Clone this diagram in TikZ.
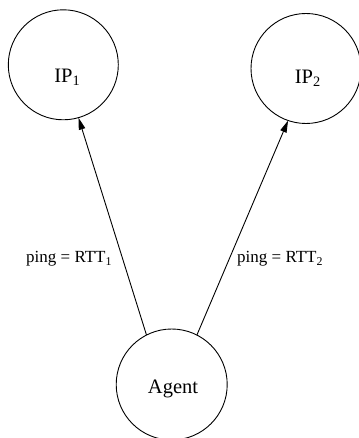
\documentclass[tikz,border=0pt]{standalone}
\usepackage{fontspec}
\setmainfont{Liberation Serif}
\usetikzlibrary{arrows.meta}
\begin{document}
\begin{tikzpicture}[x=1pt,y=-1pt,
  host/.style={draw,circle,line width=0.9pt,minimum size=110pt,inner sep=0pt,outer sep=0pt},
  hosttext/.style={anchor=base,inner sep=0pt,font=\fontsize{20.5}{24}\selectfont},
  edgelabel/.style={anchor=base west,inner sep=0pt,font=\fontsize{17}{20}\selectfont},
  link/.style={line width=0.9pt,-{Triangle[length=12pt,width=6.5pt]}}]
\useasboundingbox (0,0) rectangle (358,438);
\node[host] (ip1) at (63.3,64.8) {};
\node[host] (ip2) at (306,68.5) {};
\node[host,minimum size=111pt] (agent) at (171.7,384.5) {};
\node[hosttext] (ip1t) at (63.5,82.5) {IP\rlap{\textsubscript{1}}};
\node[hosttext] (ip2t) at (304,83.3) {IP\rlap{\textsubscript{2}}};
\node[hosttext] (agentt) at (173,393.3) {Agent};
\draw[link] (agent.117.3) -- (ip1.-74.5);
\draw[link] (agent.63.4) -- (ip2.251.8);
\node[edgelabel] (l1) at (26,262.5) {ping = RTT\textsubscript{1}};
\node[edgelabel] (l2) at (237,262.5) {ping = RTT\textsubscript{2}};
\end{tikzpicture}
\end{document}
